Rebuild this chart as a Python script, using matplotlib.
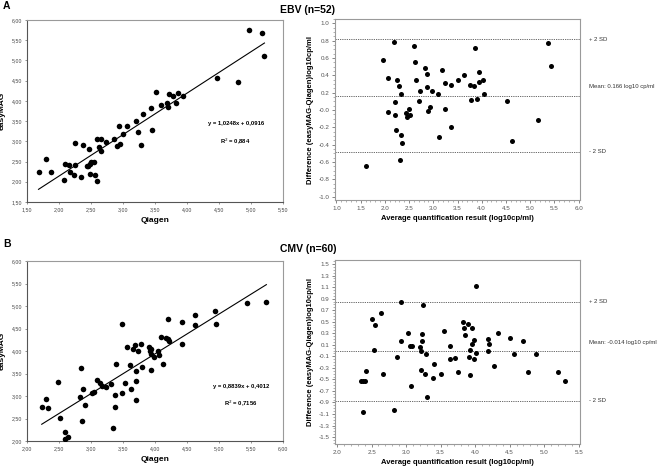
import numpy as np
import matplotlib
matplotlib.use("Agg")
import matplotlib.pyplot as plt
from matplotlib.ticker import FixedLocator, MultipleLocator, FuncFormatter

plt.rcParams['font.family'] = ['Liberation Sans', 'DejaVu Sans']

# ---------------- EBV data ----------------
ebv_qiagen = [1.68, 1.80, 1.88, 2.08, 2.09, 2.15, 2.17, 2.24, 2.25, 2.25, 2.35, 2.37, 2.45, 2.43,
              2.47, 2.48, 2.48, 2.50, 2.55, 2.56, 2.59, 2.59, 2.62, 2.65, 2.65, 2.74, 2.86, 2.90,
              2.94, 2.95, 3.00, 3.07, 3.21, 3.23, 3.28, 3.32, 3.43, 3.46, 3.52, 3.60, 3.69, 3.71,
              3.72, 3.78, 3.83, 3.86, 3.94, 4.47, 4.79, 4.97, 5.17, 5.21]
ebv_easymag = [2.24, 2.57, 2.24, 2.04, 2.43, 2.42, 2.25, 2.17, 2.97, 2.42, 2.12, 2.90, 2.40, 2.38,
               2.82, 2.20, 2.43, 2.49, 2.49, 2.17, 2.01, 3.07, 2.85, 3.07, 2.75, 2.99, 3.07, 2.88,
               3.39, 2.94, 3.18, 3.39, 3.50, 3.23, 2.91, 3.67, 3.83, 3.27, 4.23, 3.90, 3.96, 3.84,
               4.16, 4.12, 3.96, 4.19, 4.12, 4.57, 4.46, 5.76, 5.69, 5.10]
ebv_slope, ebv_intercept = 1.0248, 0.0916
ebv_eq = "y = 1,0248x + 0,0916"
ebv_r2 = "R$^2$ = 0,884"

ebv_avg = [1.62, 1.97, 2.07, 2.07, 2.19, 2.21, 2.21, 2.24, 2.26, 2.29, 2.31, 2.34, 2.34, 2.36,
           2.43, 2.46, 2.50, 2.52, 2.61, 2.63, 2.65, 2.70, 2.72, 2.83, 2.86, 2.87, 2.89, 2.94,
           2.97, 3.09, 3.12, 3.17, 3.24, 3.24, 3.37, 3.37, 3.50, 3.64, 3.76, 3.78, 3.84, 3.87,
           3.90, 3.94, 3.95, 4.03, 4.04, 4.53, 4.63, 5.16, 5.37, 5.44]
ebv_diff = [-0.646, 0.577, 0.365, -0.023, 0.785, 0.088, -0.062, -0.231, 0.346, 0.273, -0.573,
            0.181, -0.285, -0.381, -0.035, -0.077, 0.012, -0.058, 0.735, 0.550, 0.346, 0.108,
            0.223, 0.481, 0.419, 0.262, -0.015, 0.031, 0.223, 0.185, -0.315, 0.458, 0.315,
            0.008, 0.292, -0.196, 0.346, 0.400, 0.292, 0.119, 0.277, 0.712, 0.123, 0.435,
            0.327, 0.342, 0.185, 0.104, -0.354, -0.115, 0.773, 0.508]
ebv_mean = 0.166
ebv_sd = 0.325

# ---------------- CMV data ----------------
cmv_qiagen = [2.23, 2.30, 2.33, 2.49, 2.51, 2.59, 2.60, 2.64, 2.85, 2.83, 2.86, 2.88, 2.91, 3.02,
              3.04, 3.09, 3.14, 3.17, 3.23, 3.32, 3.34, 3.37, 3.37, 3.39, 3.48, 3.49, 3.53, 3.57,
              3.61, 3.63, 3.66, 3.68, 3.71, 3.71, 3.71, 3.74, 3.78, 3.79, 3.91, 3.92, 3.94, 3.94,
              3.98, 4.05, 4.07, 4.13, 4.10, 4.17, 4.20, 4.21, 4.22, 4.42, 4.42, 4.63, 4.63, 4.94,
              4.96, 5.43, 5.74, 3.93]
cmv_easymag = [2.75, 2.93, 2.73, 3.32, 2.52, 2.21, 2.05, 2.09, 3.62, 2.98, 2.44, 3.16, 2.79, 3.07,
               3.10, 3.36, 3.30, 3.23, 3.21, 3.26, 2.30, 3.03, 2.75, 3.72, 3.06, 4.60, 3.29, 4.08,
               3.69, 3.15, 4.04, 4.14, 3.34, 2.92, 3.56, 4.01, 4.16, 3.65, 4.09, 4.00, 3.94, 3.57,
               3.87, 4.00, 3.92, 3.72, 4.31, 4.28, 4.71, 4.26, 4.22, 4.64, 4.16, 4.79, 4.57, 4.88,
               4.60, 5.06, 5.08, 4.05]
cmv_slope, cmv_intercept = 0.8839, 0.4012
cmv_eq = "y = 0,8839x + 0,4012"
cmv_r2 = "R$^2$ = 0,7156"

cmv_avg = [2.34, 2.38, 2.40, 2.38, 2.42, 2.51, 2.53, 2.55, 2.64, 2.67, 2.82, 2.87, 2.92, 2.92,
           3.03, 3.05, 3.09, 3.07, 3.21, 3.20, 3.22, 3.23, 3.23, 3.24, 3.28, 3.29, 3.31, 3.39,
           3.40, 3.51, 3.55, 3.64, 3.63, 3.71, 3.75, 3.82, 3.84, 3.86, 3.90, 3.91, 3.93, 3.93,
           3.96, 3.96, 3.99, 3.99, 4.01, 4.02, 4.19, 4.20, 4.19, 4.28, 4.33, 4.51, 4.57, 4.69,
           4.76, 4.88, 5.20, 5.30]
cmv_diff = [-0.52, -0.52, -0.52, -1.06, -0.363, 0.544, 0.015, 0.439, 0.649, -0.415, -1.037,
            -0.113, 0.846, 0.172, 0.30, 0.073, 0.073, -0.613, -0.340, 0.062, -0.014, 0.294,
            0.166, 0.783, -0.409, -0.061, -0.810, -0.479, -0.241, -0.404, 0.335, 0.085, -0.142,
            -0.136, -0.374, 0.498, 0.387, 0.277, 0.463, -0.113, -0.421, 0.009, 0.108, 0.387,
            0.184, -0.154, -0.043, 1.120, 0.207, 0.108, -0.014, -0.270, 0.312, 0.219, -0.061,
            0.160, -0.369, -0.061, -0.380, -0.531]
cmv_mean = -0.014
cmv_sd = 0.43

W, H = 664, 468
fig = plt.figure(figsize=(W / 100, H / 100), dpi=100)


def fr(left, top, right, bottom):
    return [left / W, 1 - bottom / H, (right - left) / W, (bottom - top) / H]


comma = FuncFormatter(lambda v, p: f"{v:.2f}".replace(".", ","))
spine_grey = "#9a9a9a"


def scatter_panel(ax, xq, ye, slope, intercept, eq, r2, lo, hi, xlo, xhi, ylo, yhi, eqpos):
    ax.scatter(xq, ye, s=16, color="black", zorder=3, linewidths=0)
    xs = np.array([min(xq), max(xq)])
    ax.plot(xs, slope * xs + intercept, color="black", lw=0.8)
    ax.set_xlim(xlo, xhi)
    ax.set_ylim(ylo, yhi)
    ax.xaxis.set_major_locator(MultipleLocator(0.5))
    ax.yaxis.set_major_locator(MultipleLocator(0.5))
    ax.xaxis.set_major_formatter(comma)
    ax.yaxis.set_major_formatter(comma)
    ax.tick_params(labelsize=3.8, length=1.5, width=0.4, pad=2, colors="#444444")
    for s in ax.spines.values():
        s.set_color(spine_grey)
        s.set_linewidth(0.8)
    ax.spines["left"].set_color("#555555")
    ax.spines["bottom"].set_color("#555555")
    ax.set_xlabel("Qiagen", fontsize=6, fontweight="bold", labelpad=4)
    ax.set_ylabel("easyMAG", fontsize=6, fontweight="bold", labelpad=4)
    ax.text(eqpos[0], eqpos[1], eq, transform=ax.transAxes, fontsize=4.2, fontweight="bold",
            ha="center", va="center")
    ax.text(eqpos[0], eqpos[1] - 0.1, r2, transform=ax.transAxes, fontsize=4.2, fontweight="bold",
            ha="center", va="center")


def ba_panel(ax, avg, diff, mean, sd, xlim, ylim, xmaj, ymaj, meanlabel):
    ax.scatter(avg, diff, s=13, color="black", zorder=3, linewidths=0)
    for v in (mean + 2 * sd, mean, mean - 2 * sd):
        ax.axhline(v, color="#555555", lw=0.6, ls=(0, (1.5, 1.2)))
    ax.set_xlim(*xlim)
    ax.set_ylim(*ylim)
    ax.xaxis.set_major_locator(FixedLocator(xmaj))
    ax.xaxis.set_minor_locator(MultipleLocator(0.1))
    ax.yaxis.set_major_locator(FixedLocator(ymaj))
    ax.yaxis.set_minor_locator(MultipleLocator(0.05))
    ax.xaxis.set_major_formatter(FuncFormatter(lambda v, p: f"{v:.1f}"))
    ax.yaxis.set_major_formatter(FuncFormatter(lambda v, p: f"{v:.1f}"))
    ax.tick_params(which="major", labelsize=4.5, length=2.5, width=0.5, pad=1.5, colors="#555555")
    ax.tick_params(which="minor", length=1.5, width=0.4, colors="#777777")
    for s in ax.spines.values():
        s.set_color(spine_grey)
        s.set_linewidth(0.8)
    ax.set_xlabel("Average quantification result (log10cp/ml)", fontsize=5.5,
                  fontweight="bold", labelpad=3)
    ax.set_ylabel("Difference (easyMAG-Qiagen)log10cp/ml", fontsize=5.5,
                  fontweight="bold", labelpad=3)
    tr = ax.get_yaxis_transform()
    ax.text(1.035, mean + 2 * sd, "+ 2 SD", transform=tr, fontsize=4.3, color="#333333",
            va="center", ha="left")
    ax.text(1.035, mean - 2 * sd, "- 2 SD", transform=tr, fontsize=4.3, color="#333333",
            va="center", ha="left")
    ax.text(1.035, mean + 0.1 * (ylim[1] - ylim[0]) / 2, meanlabel, transform=tr, fontsize=4.3,
            color="#333333", va="center", ha="left")


# Panel A
axA1 = fig.add_axes(fr(27, 20, 283, 202))
scatter_panel(axA1, ebv_qiagen, ebv_easymag, ebv_slope, ebv_intercept, ebv_eq, ebv_r2,
              None, None, 1.5, 5.5, 1.5, 6.0, (0.815, 0.43))
axA2 = fig.add_axes(fr(335, 19, 580, 200))
ba_panel(axA2, ebv_avg, ebv_diff, ebv_mean, ebv_sd, (0.97, 6.03), (-1.04, 1.05),
         np.arange(1.0, 6.01, 0.5), np.arange(-1.0, 1.01, 0.2), "Mean: 0.166 log10 cp/ml")

# Panel B
axB1 = fig.add_axes(fr(27, 261, 283, 441))
scatter_panel(axB1, cmv_qiagen, cmv_easymag, cmv_slope, cmv_intercept, cmv_eq, cmv_r2,
              None, None, 2.0, 6.0, 2.0, 6.0, (0.835, 0.305))
axB2 = fig.add_axes(fr(335, 260, 580, 444))
ba_panel(axB2, cmv_avg, cmv_diff, cmv_mean, cmv_sd, (1.97, 5.52), (-1.62, 1.57),
         np.arange(2.0, 5.51, 0.5), np.arange(-1.5, 1.51, 0.2), "Mean: -0.014 log10 cp/ml")

fig.text(308 / W, 1 - 10 / H, "EBV (n=52)", fontsize=7.5, fontweight="bold", ha="center", va="center")
fig.text(308 / W, 1 - 249 / H, "CMV (n=60)", fontsize=7.5, fontweight="bold", ha="center", va="center")
fig.text(3 / W, 1 - 6 / H, "A", fontsize=7.5, fontweight="bold", ha="left", va="center")
fig.text(3 / W, 1 - 244 / H, "B", fontsize=7.5, fontweight="bold", ha="left", va="center")

fig.savefig("out.png", dpi=100)
